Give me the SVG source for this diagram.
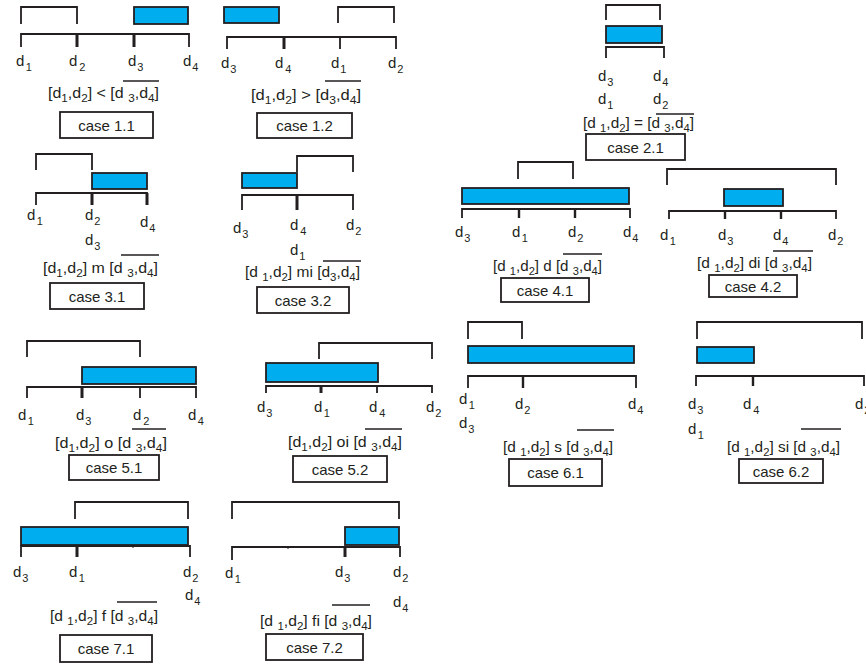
<svg xmlns="http://www.w3.org/2000/svg" width="866" height="664" viewBox="0 0 866 664">
<style>
.ln{fill:none;stroke:#231f20;stroke-width:1.8}
.tk{fill:none;stroke:#231f20;stroke-width:3}
.bl{fill:#00aeef;stroke:#231f20;stroke-width:1.8}
.bx{fill:#fff;stroke:#231f20;stroke-width:1.8}
.l{font-family:"Liberation Sans",Arial,sans-serif;font-size:15px;fill:#231f20}
.f{font-family:"Liberation Sans",Arial,sans-serif;font-size:15px;fill:#231f20}
.s{font-size:11px}
.c{font-family:"Liberation Sans",Arial,sans-serif;font-size:15px;fill:#231f20;text-anchor:middle}
.ov{fill:none;stroke:#231f20;stroke-width:1.5}
</style>
<rect width="866" height="664" fill="#fff"/>

<g id="case11">
<path class="ln" d="M21 24V7H77V24"/>
<rect class="bl" x="134" y="7" width="54" height="17"/>
<path class="ln" d="M21 47V34H189V47"/>
<path class="tk" d="M77 34V47M134 34V47"/>
<text class="l" x="16" y="66">d<tspan class="s" dx="1.5" dy="5">1</tspan></text>
<text class="l" x="69" y="66">d<tspan class="s" dx="2" dy="5">2</tspan></text>
<text class="l" x="128" y="66">d<tspan class="s" dx="1" dy="5">3</tspan></text>
<text class="l" x="183" y="66">d<tspan class="s" dx="1" dy="5">4</tspan></text>
<text class="f" x="48" y="98" textLength="111" lengthAdjust="spacingAndGlyphs">[d<tspan class="s" dy="4">1</tspan><tspan dy="-4">,d</tspan><tspan class="s" dy="4">2</tspan><tspan dy="-4">] &lt; [d </tspan><tspan class="s" dy="4">3</tspan><tspan dy="-4">,d</tspan><tspan class="s" dy="4">4</tspan><tspan dy="-4">]</tspan></text>
<path class="ov" d="M123 81H159"/>
<rect class="bx" x="60" y="112" width="93" height="26"/>
<text class="c" x="106.5" y="131">case 1.1</text>
</g>

<g id="case12">
<rect class="bl" x="224" y="7" width="55" height="16"/>
<path class="ln" d="M338 23V7H394V23"/>
<path class="ln" d="M227 49V37H396V49M340 37V49"/>
<path class="tk" d="M284 37V49"/>
<text class="l" x="221" y="68">d<tspan class="s" dx="1" dy="5">3</tspan></text>
<text class="l" x="275" y="68">d<tspan class="s" dx="2" dy="5">4</tspan></text>
<text class="l" x="331" y="68">d<tspan class="s" dx="1" dy="5">1</tspan></text>
<text class="l" x="388" y="68">d<tspan class="s" dx="1" dy="5">2</tspan></text>
<text class="f" x="251" y="100" textLength="110" lengthAdjust="spacingAndGlyphs">[d<tspan class="s" dy="4">1</tspan><tspan dy="-4">,d</tspan><tspan class="s" dy="4">2</tspan><tspan dy="-4">] &gt; [d</tspan><tspan class="s" dy="4">3</tspan><tspan dy="-4">,d</tspan><tspan class="s" dy="4">4</tspan><tspan dy="-4">]</tspan></text>
<path class="ov" d="M325 81H361"/>
<rect class="bx" x="257" y="113" width="95" height="25"/>
<text class="c" x="304.5" y="131">case 1.2</text>
</g>

<g id="case21">
<path class="ln" d="M606 20V5H660V20"/>
<rect class="bl" x="606" y="26" width="56" height="17"/>
<path class="ln" d="M606 58V47H664V58"/>
<text class="l" x="598" y="81">d<tspan class="s" dx="1" dy="5">3</tspan></text>
<text class="l" x="653" y="81">d<tspan class="s" dx="1" dy="5">4</tspan></text>
<text class="l" x="598" y="104">d<tspan class="s" dx="1" dy="5">1</tspan></text>
<text class="l" x="653" y="104">d<tspan class="s" dx="1" dy="5">2</tspan></text>
<text class="f" x="583" y="128" textLength="111" lengthAdjust="spacingAndGlyphs">[d <tspan class="s" dy="4">1</tspan><tspan dy="-4">,d</tspan><tspan class="s" dy="4">2</tspan><tspan dy="-4">] = [d </tspan><tspan class="s" dy="4">3</tspan><tspan dy="-4">,d</tspan><tspan class="s" dy="4">4</tspan><tspan dy="-4">]</tspan></text>
<path class="ov" d="M656 114H694"/>
<rect class="bx" x="586" y="134" width="99" height="26"/>
<text class="c" x="635.5" y="153">case 2.1</text>
</g>

<g id="case31">
<path class="ln" d="M36 170V154H92V170"/>
<rect class="bl" x="92" y="173" width="55" height="16"/>
<path class="ln" d="M36 205V193H147V205"/>
<path class="tk" d="M92 193V205M147 193V205"/>
<text class="l" x="27" y="220">d<tspan class="s" dx="1.5" dy="5">1</tspan></text>
<text class="l" x="85" y="220">d<tspan class="s" dx="1" dy="5">2</tspan></text>
<text class="l" x="140" y="227">d<tspan class="s" dx="1" dy="5">4</tspan></text>
<text class="l" x="85" y="245">d<tspan class="s" dx="1" dy="5">3</tspan></text>
<text class="f" x="43" y="273" textLength="115" lengthAdjust="spacingAndGlyphs">[d<tspan class="s" dy="4">1</tspan><tspan dy="-4">,d</tspan><tspan class="s" dy="4">2</tspan><tspan dy="-4">] m [d </tspan><tspan class="s" dy="4">3</tspan><tspan dy="-4">,d</tspan><tspan class="s" dy="4">4</tspan><tspan dy="-4">]</tspan></text>
<path class="ov" d="M121 255H159"/>
<rect class="bx" x="50" y="283" width="94" height="26"/>
<text class="c" x="97" y="302">case 3.1</text>
</g>

<g id="case32">
<rect class="bl" x="242" y="173" width="55" height="15"/>
<path class="ln" d="M297 172V156H353V172"/>
<path class="ln" d="M242 210V195H353V210"/>
<path class="tk" d="M297 195V210"/>
<text class="l" x="233" y="233">d<tspan class="s" dx="1" dy="5">3</tspan></text>
<text class="l" x="290" y="230">d<tspan class="s" dx="2" dy="5">4</tspan></text>
<text class="l" x="346" y="230">d<tspan class="s" dx="1" dy="5">2</tspan></text>
<text class="l" x="290" y="255">d<tspan class="s" dx="1" dy="5">1</tspan></text>
<text class="f" x="245" y="277" textLength="115" lengthAdjust="spacingAndGlyphs">[d <tspan class="s" dy="4">1</tspan><tspan dy="-4">,d</tspan><tspan class="s" dy="4">2</tspan><tspan dy="-4">] mi [d</tspan><tspan class="s" dy="4">3</tspan><tspan dy="-4">,d</tspan><tspan class="s" dy="4">4</tspan><tspan dy="-4">]</tspan></text>
<path class="ov" d="M323 261H361"/>
<rect class="bx" x="257" y="287" width="92" height="26"/>
<text class="c" x="303" y="306">case 3.2</text>
</g>

<g id="case41">
<path class="ln" d="M518 179V162H573V179"/>
<rect class="bl" x="462" y="188" width="167" height="16"/>
<path class="ln" d="M462 218V209H630V218"/>
<path class="ln" style="stroke-width:2.4" d="M519 209V218M575 209V218"/>
<text class="l" x="455" y="237">d<tspan class="s" dx="1" dy="5">3</tspan></text>
<text class="l" x="512" y="237">d<tspan class="s" dx="1.5" dy="5">1</tspan></text>
<text class="l" x="568" y="237">d<tspan class="s" dx="1" dy="5">2</tspan></text>
<text class="l" x="623" y="237">d<tspan class="s" dx="1" dy="5">4</tspan></text>
<text class="f" x="493" y="271" textLength="109" lengthAdjust="spacingAndGlyphs">[d <tspan class="s" dy="4">1</tspan><tspan dy="-4">,d</tspan><tspan class="s" dy="4">2</tspan><tspan dy="-4">] d [d </tspan><tspan class="s" dy="4">3</tspan><tspan dy="-4">,d</tspan><tspan class="s" dy="4">4</tspan><tspan dy="-4">]</tspan></text>
<path class="ov" d="M563 254H602"/>
<rect class="bx" x="501" y="278" width="88" height="24"/>
<text class="c" x="545" y="296">case 4.1</text>
</g>

<g id="case42">
<path class="ln" d="M667 185V169H836V185"/>
<rect class="bl" x="724" y="189" width="59" height="17"/>
<path class="ln" d="M669 219V211H836V219"/>
<path class="ln" style="stroke-width:2.4" d="M725 211V219M781 211V219"/>
<text class="l" x="660" y="240">d<tspan class="s" dx="1.5" dy="5">1</tspan></text>
<text class="l" x="718" y="240">d<tspan class="s" dx="1" dy="5">3</tspan></text>
<text class="l" x="773" y="240">d<tspan class="s" dx="1" dy="5">4</tspan></text>
<text class="l" x="828" y="240">d<tspan class="s" dx="1" dy="5">2</tspan></text>
<text class="f" x="697" y="268" textLength="115" lengthAdjust="spacingAndGlyphs">[d <tspan class="s" dy="4">1</tspan><tspan dy="-4">,d</tspan><tspan class="s" dy="4">2</tspan><tspan dy="-4">] di [d </tspan><tspan class="s" dy="4">3</tspan><tspan dy="-4">,d</tspan><tspan class="s" dy="4">4</tspan><tspan dy="-4">]</tspan></text>
<path class="ov" d="M773 251H813"/>
<rect class="bx" x="709" y="275" width="88" height="22"/>
<text class="c" x="753" y="292">case 4.2</text>
</g>

<g id="case51">
<path class="ln" d="M27 357V341H140V357"/>
<rect class="bl" x="82" y="367" width="114" height="17"/>
<path class="ln" d="M27 398V387H196V398M140 387V398"/>
<path class="tk" d="M82 387V398"/>
<text class="l" x="18" y="420">d<tspan class="s" dx="1.5" dy="5">1</tspan></text>
<text class="l" x="76" y="420">d<tspan class="s" dx="1" dy="5">3</tspan></text>
<text class="l" x="133" y="420">d<tspan class="s" dx="2" dy="5">2</tspan></text>
<text class="l" x="188" y="420">d<tspan class="s" dx="1.5" dy="5">4</tspan></text>
<text class="f" x="55" y="448" textLength="112" lengthAdjust="spacingAndGlyphs">[d<tspan class="s" dy="4">1</tspan><tspan dy="-4">,d</tspan><tspan class="s" dy="4">2</tspan><tspan dy="-4">] o [d </tspan><tspan class="s" dy="4">3</tspan><tspan dy="-4">,d</tspan><tspan class="s" dy="4">4</tspan><tspan dy="-4">]</tspan></text>
<path class="ov" d="M132 429H166"/>
<rect class="bx" x="69" y="455" width="90" height="25"/>
<text class="c" x="114" y="473">case 5.1</text>
</g>

<g id="case52">
<path class="ln" d="M319 359V343H432V359"/>
<rect class="bl" x="266" y="363" width="112" height="19"/>
<path class="ln" d="M266 393V386H432V393M377 386V393"/>
<path class="tk" d="M321 386V393"/>
<text class="l" x="257" y="412">d<tspan class="s" dx="1" dy="5">3</tspan></text>
<text class="l" x="314" y="412">d<tspan class="s" dx="1.5" dy="5">1</tspan></text>
<text class="l" x="369" y="412">d<tspan class="s" dx="2" dy="5">4</tspan></text>
<text class="l" x="426" y="412">d<tspan class="s" dx="1" dy="5">2</tspan></text>
<text class="f" x="288" y="447" textLength="114" lengthAdjust="spacingAndGlyphs">[d<tspan class="s" dy="4">1</tspan><tspan dy="-4">,d</tspan><tspan class="s" dy="4">2</tspan><tspan dy="-4">] oi [d </tspan><tspan class="s" dy="4">3</tspan><tspan dy="-4">,d</tspan><tspan class="s" dy="4">4</tspan><tspan dy="-4">]</tspan></text>
<path class="ov" d="M365 429H402"/>
<rect class="bx" x="293" y="456" width="94" height="26"/>
<text class="c" x="340" y="475">case 5.2</text>
</g>

<g id="case61">
<path class="ln" d="M468 339V322H522V339"/>
<rect class="bl" x="468" y="346" width="166" height="17"/>
<path class="ln" d="M468 388V376H636V388"/>
<path class="ln" style="stroke-width:2.4" d="M523 376V388"/>
<text class="l" x="459" y="404">d<tspan class="s" dx="1.5" dy="5">1</tspan></text>
<text class="l" x="515" y="409">d<tspan class="s" dx="1" dy="5">2</tspan></text>
<text class="l" x="628" y="409">d<tspan class="s" dx="1" dy="5">4</tspan></text>
<text class="l" x="459" y="428">d<tspan class="s" dx="1" dy="5">3</tspan></text>
<text class="f" x="503" y="452" textLength="110" lengthAdjust="spacingAndGlyphs">[d <tspan class="s" dy="4">1</tspan><tspan dy="-4">,d</tspan><tspan class="s" dy="4">2</tspan><tspan dy="-4">] s [d </tspan><tspan class="s" dy="4">3</tspan><tspan dy="-4">,d</tspan><tspan class="s" dy="4">4</tspan><tspan dy="-4">]</tspan></text>
<path class="ov" d="M577 430H614"/>
<rect class="bx" x="509" y="459" width="93" height="27"/>
<text class="c" x="555.5" y="478">case 6.1</text>
</g>

<g id="case62">
<path class="ln" d="M697 339V322H862V339"/>
<rect class="bl" x="697" y="347" width="57" height="16"/>
<path class="ln" d="M696 386V376H864V386"/>
<path class="ln" style="stroke-width:2.4" d="M753 376V386"/>
<text class="l" x="688" y="409">d<tspan class="s" dx="1" dy="5">3</tspan></text>
<text class="l" x="743" y="409">d<tspan class="s" dx="2" dy="5">4</tspan></text>
<text class="l" x="855" y="409">d<tspan class="s" dx="1" dy="5">2</tspan></text>
<text class="l" x="688" y="434">d<tspan class="s" dx="1.5" dy="5">1</tspan></text>
<text class="f" x="727" y="452" textLength="113" lengthAdjust="spacingAndGlyphs">[d <tspan class="s" dy="4">1</tspan><tspan dy="-4">,d</tspan><tspan class="s" dy="4">2</tspan><tspan dy="-4">] si [d </tspan><tspan class="s" dy="4">3</tspan><tspan dy="-4">,d</tspan><tspan class="s" dy="4">4</tspan><tspan dy="-4">]</tspan></text>
<path class="ov" d="M801 429H841"/>
<rect class="bx" x="739" y="459" width="84" height="24"/>
<text class="c" x="781" y="477">case 6.2</text>
</g>

<g id="case71">
<path class="ln" d="M75 519V502H188V519"/>
<rect class="bl" x="21" y="527" width="167" height="18"/>
<path class="ln" d="M21 557V546H190V557"/>
<path class="tk" d="M77 546V557"/>
<path class="ln" style="stroke-width:1" d="M133 545V548"/>
<text class="l" x="13" y="577">d<tspan class="s" dx="1" dy="5">3</tspan></text>
<text class="l" x="69" y="577">d<tspan class="s" dx="1.5" dy="5">1</tspan></text>
<text class="l" x="183" y="577">d<tspan class="s" dx="1" dy="5">2</tspan></text>
<text class="l" x="185" y="600">d<tspan class="s" dx="1" dy="5">4</tspan></text>
<text class="f" x="50" y="621" textLength="108" lengthAdjust="spacingAndGlyphs">[d <tspan class="s" dy="4">1</tspan><tspan dy="-4">,d</tspan><tspan class="s" dy="4">2</tspan><tspan dy="-4">] f [d </tspan><tspan class="s" dy="4">3</tspan><tspan dy="-4">,d</tspan><tspan class="s" dy="4">4</tspan><tspan dy="-4">]</tspan></text>
<path class="ov" d="M117 602H157"/>
<rect class="bx" x="60" y="635" width="92" height="27"/>
<text class="c" x="106" y="654">case 7.1</text>
</g>

<g id="case72">
<path class="ln" d="M232 519V502H399V519"/>
<rect class="bl" x="345" y="527" width="54" height="18"/>
<path class="ln" d="M232 560V547H400V557"/>
<path class="tk" d="M345 547V557"/>
<path class="ln" style="stroke-width:1" d="M288 546V549"/>
<text class="l" x="225" y="578">d<tspan class="s" dx="1.5" dy="5">1</tspan></text>
<text class="l" x="335" y="577">d<tspan class="s" dx="1" dy="5">3</tspan></text>
<text class="l" x="393" y="577">d<tspan class="s" dx="1" dy="5">2</tspan></text>
<text class="l" x="393" y="607">d<tspan class="s" dx="1" dy="5">4</tspan></text>
<text class="f" x="260" y="626" textLength="112" lengthAdjust="spacingAndGlyphs">[d <tspan class="s" dy="4">1</tspan><tspan dy="-4">,d</tspan><tspan class="s" dy="4">2</tspan><tspan dy="-4">] fi [d </tspan><tspan class="s" dy="4">3</tspan><tspan dy="-4">,d</tspan><tspan class="s" dy="4">4</tspan><tspan dy="-4">]</tspan></text>
<path class="ov" d="M332 605H370"/>
<rect class="bx" x="266" y="634" width="97" height="26"/>
<text class="c" x="314.5" y="653">case 7.2</text>
</g>

<g id="connectors"></g>
</svg>
